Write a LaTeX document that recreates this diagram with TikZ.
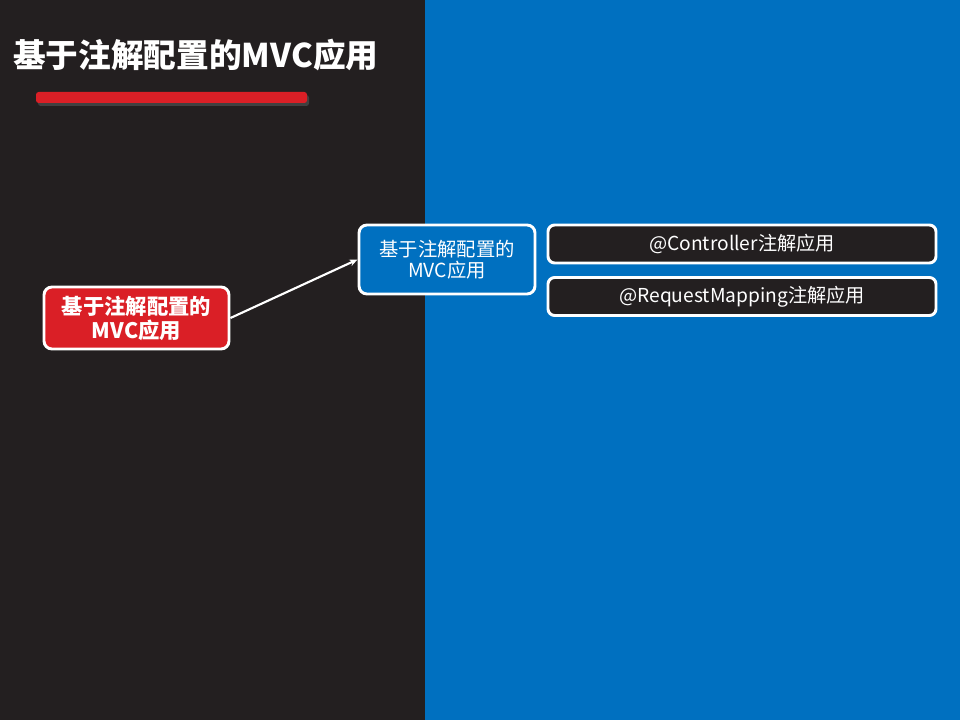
\documentclass[tikz,border=0pt]{standalone}
\usepackage{fontspec}
\setmainfont{Noto Sans CJK SC}
\usepackage{tikz}
\usetikzlibrary{shapes, arrows.meta, positioning}
\definecolor{darkbg}{HTML}{231F20}
\definecolor{bluebg}{HTML}{0070C0}
\definecolor{redfill}{HTML}{DA1F26}
\begin{document}
\begin{tikzpicture}
  [
    x=0.75pt, y=-0.75pt,
    Red/.style={rectangle, rounded corners=6pt, draw=white, fill=redfill, line width=2.2pt, minimum width=138.75pt, minimum height=46.5pt, text=white, font=\bfseries\fontsize{16}{18}\selectfont, align=center, inner sep=0pt},
    Blue/.style={rectangle, rounded corners=6pt, draw=white, fill=bluebg, line width=2.2pt, minimum width=132pt, minimum height=51.75pt, text=white, font=\fontsize{14.5}{16}\selectfont, align=center, inner sep=0pt},
    Dark/.style={rectangle, rounded corners=5pt, draw=white, fill=darkbg, line width=2.2pt, minimum width=291pt, minimum height=28.5pt, text=white, font=\fontsize{14.4}{16}\selectfont, inner sep=0pt}
  ]
  % Background
  \useasboundingbox (0, 0) rectangle (960, 720);
  \fill[darkbg] (0, 0) rectangle (425, 720);
  \fill[bluebg] (425, 0) rectangle (960, 720);
  % Title
  \node[anchor=west, text=white, font=\bfseries\fontsize{24.5}{27}\selectfont, inner sep=0pt] (title) at(13, 55) {基于注解配置的MVC应用};
  \fill[black!75, rounded corners=2pt] (38, 95) rectangle (309, 106);
  \fill[redfill, rounded corners=2pt] (36, 92) rectangle (307, 103);
  % Nodes
  \node[Red] (root) at(136.5, 318) {基于注解配置的\\MVC应用};
  \node[Blue] (topic) at(447, 259.5) {基于注解配置的\\MVC应用};
  \node[Dark] (ctrl) at(742, 244) {@Controller注解应用};
  \node[Dark] (mapping) at(742, 296.5) {@RequestMapping注解应用};
  % Lines
  \path [-{Stealth[length=6pt, width=5pt]}, draw, white, line width=1.6pt] (root.east) -- (topic.west);
\end{tikzpicture}
\end{document}
